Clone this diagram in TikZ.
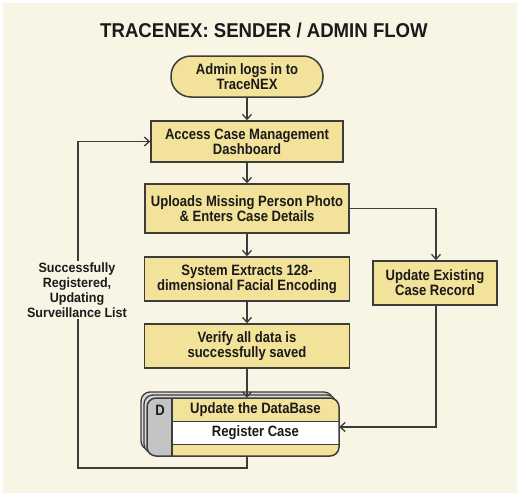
\documentclass[tikz,border=0pt]{standalone}
\usepackage{fontspec}
\setmainfont{Liberation Sans}[FakeStretch=0.93]
\newfontfamily\narrowsans{Liberation Sans}[FakeStretch=0.87]
\usetikzlibrary{arrows.meta,calc}

\definecolor{bgcream}{HTML}{F8F5E4}
\definecolor{boxfill}{HTML}{F2E29A}
\definecolor{edge}{HTML}{3C3C3C}
\definecolor{ink}{HTML}{1A1A1A}
\definecolor{stripgray}{HTML}{C4C4C4}
\definecolor{layergray}{HTML}{D9D9D6}

\tikzset{
  boxfont/.style={font=\narrowsans\bfseries\fontsize{15}{15}\selectfont},
  procbox/.style={draw=edge, line width=1.5pt, fill=boxfill, align=center,
    inner sep=0pt, text=ink, boxfont},
  conn/.style={draw=edge, line width=1.3pt,
    -{Straight Barb[length=5pt,width=9pt,line width=1.3pt]}},
}

\begin{document}
\begin{tikzpicture}[x=1pt,y=-1pt]
  % page and background
  \fill[white] (0,0) rectangle (517,493);
  \fill[bgcream] (3,3) rectangle (517,493);
  \useasboundingbox (0,0) rectangle (517,493);

  % title
  \node[text=ink, font=\bfseries\fontsize{20}{22}\selectfont] (title) at (264,30)
    {TRACENEX: SENDER / ADMIN FLOW};

  % start terminal
  \node[procbox, rounded corners=20pt, minimum width=152pt, minimum height=41pt]
    (start) at (247,76.5) {Admin logs in to\\TraceNEX};

  % process steps
  \node[procbox, minimum width=192pt, minimum height=41pt] (access) at (247,141.5)
    {Access Case Management\\Dashboard};
  \node[procbox, minimum width=204pt, minimum height=49pt] (upload) at (247,208.5)
    {Uploads Missing Person Photo\\\& Enters Case Details};
  \node[procbox, minimum width=205pt, minimum height=44pt] (system) at (247,279)
    {System Extracts 128-\\dimensional Facial Encoding};
  \node[procbox, minimum width=205pt, minimum height=44pt] (verify) at (247,346)
    {Verify all data is\\successfully saved};
  \node[procbox, minimum width=124pt, minimum height=44pt] (existing) at (435,283)
    {Update Existing\\Case Record};

  % database store: stacked layers behind the front card
  \draw[edge, line width=1.3pt, fill=layergray, rounded corners=9pt]
    (141,392) rectangle (333,450);
  \draw[edge, line width=1.3pt, fill=layergray, rounded corners=9pt]
    (144,395) rectangle (336,453);
  \node[draw=none, minimum width=192pt, minimum height=58pt, inner sep=0pt]
    (db) at (243,427) {};
  \begin{scope}
    \clip[rounded corners=9pt] (147,398) rectangle (339,456);
    \fill[boxfill] (147,398) rectangle (339,456);
    \fill[stripgray] (147,398) rectangle (172,456);
    \fill[white] (172,421) rectangle (339,444);
    \draw[edge, line width=1pt] (172,421) -- (339,421) (172,444) -- (339,444);
    \draw[edge, line width=1.2pt] (172,398) -- (172,456);
  \end{scope}
  \draw[edge, line width=1.5pt, rounded corners=9pt] (147,398) rectangle (339,456);
  \node[text=ink, boxfont] (dtag) at (160,410) {D};
  \node[text=ink, boxfont] (dbhead) at (255.5,410) {Update the DataBase};
  \node[text=ink, boxfont] (dbrow) at (255.5,432.5) {Register Case};

  % main flow
  \draw[conn] (start) -- (access);
  \draw[conn] (access) -- (upload);
  \draw[conn] (upload) -- (system);
  \draw[conn] (system) -- (verify);
  \draw[conn] (verify.south) -- (verify.south |- db.north);

  % branch to existing record
  \coordinate (branch) at (436,208.5);
  \draw[conn] (upload.east) -- (branch) -- (branch |- existing.north);
  \draw[conn] (existing.south -| branch) |- (db.east);

  % loop back after registration
  \coordinate (dbout) at (247,456);
  \coordinate (loopcorner) at (78,468);
  \draw[conn] (dbout) |- (loopcorner) |- (access.west);
  \node[fill=bgcream, text=ink, align=center, inner sep=2pt,
        font=\bfseries\fontsize{13.5}{15}\selectfont] (loopnote) at (77,290)
    {Successfully\\Registered,\\Updating\\Surveillance List};
\end{tikzpicture}
\end{document}
